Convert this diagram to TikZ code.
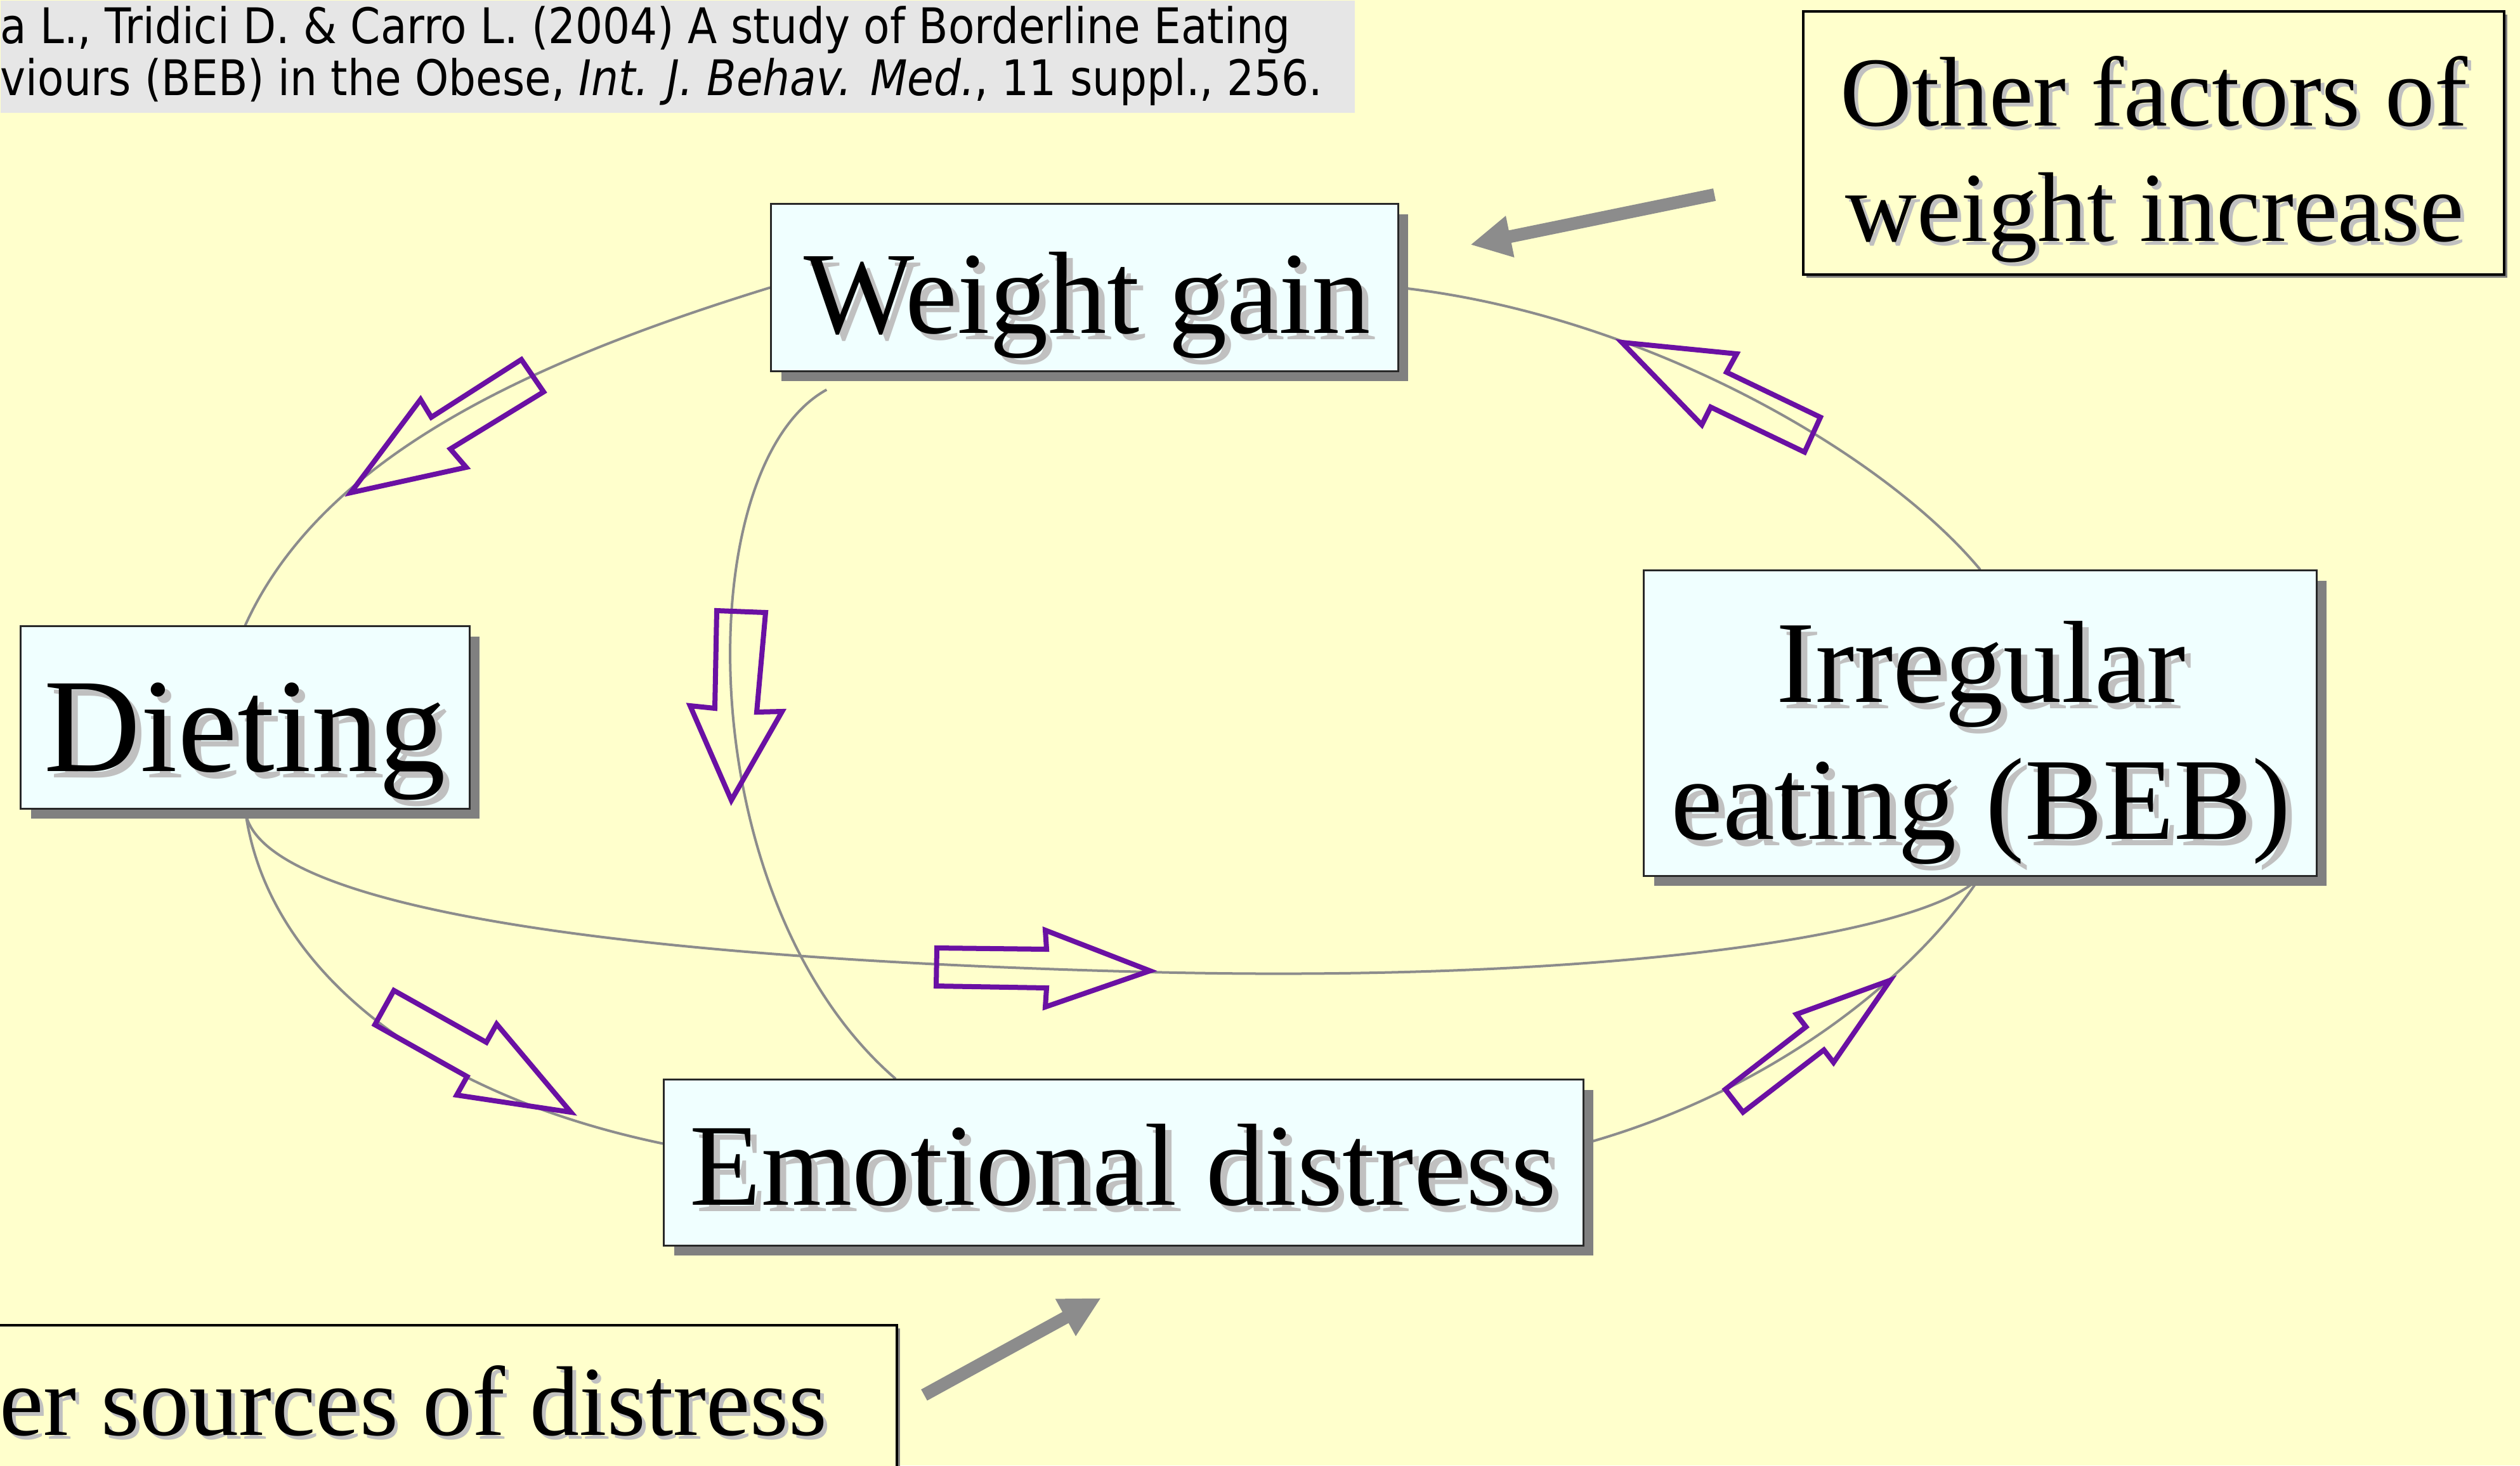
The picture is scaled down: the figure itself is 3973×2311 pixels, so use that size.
\documentclass[tikz,border=0pt]{standalone}
\usepackage{fontspec}
\setmainfont{Liberation Serif}
\newfontfamily\citefont[FakeStretch=0.875]{DejaVu Sans}
\usetikzlibrary{arrows.meta,shadows,calc}

\definecolor{paper}{RGB}{255,255,204}
\definecolor{boxfill}{RGB}{240,255,255}
\definecolor{boxshade}{RGB}{128,128,128}
\definecolor{boxline}{RGB}{40,40,40}
\definecolor{linkgrey}{RGB}{140,140,140}
\definecolor{violetline}{RGB}{106,16,163}
\definecolor{glyphshade}{RGB}{192,192,192}
\definecolor{citegrey}{RGB}{230,230,230}

% black lettering over a light grey copy shifted right and down
\newcommand{\shd}[1]{\makebox[0pt][l]{\hspace{0.1cm}\raisebox{-0.1cm}{\textcolor{glyphshade}{#1}}}#1}
\newcommand{\shdsmall}[1]{\makebox[0pt][l]{\hspace{0.06cm}\raisebox{-0.06cm}{\textcolor{glyphshade}{#1}}}#1}

\pgfdeclarelayer{paperlayer}
\pgfdeclarelayer{linklayer}
\pgfsetlayers{paperlayer,linklayer,main}

\begin{document}
\begin{tikzpicture}[x=0.01cm,y=-0.01cm,
  box/.style={draw=boxline, line width=0.03cm, fill=boxfill, inner sep=0pt,
    drop shadow={shadow xshift=0.16cm, shadow yshift=-0.16cm, fill=boxshade, opacity=1}},
  sidebox/.style={draw=black, line width=0.04cm, fill=paper, inner sep=0pt,
    drop shadow={shadow xshift=0.05cm, shadow yshift=-0.05cm, fill=boxshade, opacity=1}},
  boxtext/.style={inner sep=0pt, anchor=base, text=black},
  link/.style={draw=linkgrey, line width=0.04cm},
  hollow/.style={draw=violetline, line width=0.08cm, line join=miter},
  push/.style={draw=linkgrey, line width=0.2cm, -{Triangle[length=0.64cm,width=0.62cm]}},
  citetext/.style={inner sep=0pt, anchor=base west, font=\citefont\fontsize{22}{26}\selectfont}
]
\begin{pgfonlayer}{paperlayer}
  \fill[paper] (0,0) rectangle (3973,2311);
\end{pgfonlayer}
\useasboundingbox (0,0) rectangle (3973,2311);

% reference strip
\node[fill=citegrey, minimum width=21.34cm, minimum height=1.77cm, inner sep=0pt, anchor=north west] (cite) at (0,0) {};
\node[citetext] (citeA) at (0,68) {a L., Tridici D. \& Carro L. (2004) A study of Borderline Eating};
\node[citetext] (citeB) at (0,150) {viours (BEB) in the Obese, \textit{Int. J. Behav. Med.}, 11 suppl., 256.};

% stages of the cycle
\node[box, minimum width=9.88cm, minimum height=2.63cm] (wg) at (1710,453.5) {};
\node[box, minimum width=7.07cm, minimum height=2.87cm] (di) at (386.5,1131.5) {};
\node[box, minimum width=10.6cm, minimum height=4.81cm] (irr) at (3122,1140.5) {};
\node[box, minimum width=14.49cm, minimum height=2.61cm] (em) at (1771.5,1833.5) {};

% outside influences
\node[sidebox, minimum width=11.05cm, minimum height=4.15cm] (of) at (3395.5,225.5) {};
\node[sidebox, minimum width=15.14cm, minimum height=3.6cm] (os) at (657,2270) {};

% lettering
\node[boxtext, font=\fontsize{52.5}{63}\selectfont] (wgT) at (1714,525) {\shd{Weight gain}};
\node[boxtext, font=\fontsize{60}{72}\selectfont] (diT) at (386,1216) {\shd{Dieting}};
\node[boxtext, font=\fontsize{52.4}{62}\selectfont] (irrA) at (3123,1107) {\shd{Irregular}};
\node[boxtext, font=\fontsize{52.4}{62}\selectfont] (irrB) at (3123,1323) {\shd{eating (BEB)}};
\node[boxtext, font=\fontsize{52.4}{62}\selectfont] (emT) at (1771,1900) {\shd{Emotional distress}};
\node[boxtext, font=\fontsize{44.4}{53}\selectfont] (ofA) at (3396,198) {\shdsmall{Other factors of}};
\node[boxtext, font=\fontsize{44.4}{53}\selectfont] (ofB) at (3397,380) {\shdsmall{weight increase}};
\node[boxtext, anchor=base east, font=\fontsize{44.4}{53}\selectfont] (osT) at (1305,2263) {\shdsmall{er sources of distress}};

\begin{pgfonlayer}{linklayer}
  % thin links between the stages
  \draw[link] (wg.west) .. controls (836,570) and (507,720) .. (di.north);
  \draw[link] (wg.east) .. controls (2585,495) and (2965,710) .. (irr.north);
  \draw[link] ($(wg.south west)+(89,28)$) .. controls (1085,735) and (1085,1419) .. ($(em.north west)+(367,0)$);
  \draw[link] (di.south) .. controls (418,1520) and (659,1723) .. ($(em.west)+(0,-30)$);
  \draw[link] (di.south) .. controls (400,1420) and (900,1510) .. (1812,1533)
                         .. controls (2500,1550) and (3030,1480) .. (irr.south);
  \draw[link] ($(em.east)+(0,-30)$) .. controls (2787,1723) and (3015,1546) .. (irr.south);

  % hollow direction arrows
  \draw[hollow] (553,777) -- (663,630) -- (680,658) -- (822,567) -- (857,618) -- (710,708) -- (735,737) -- cycle;
  \draw[hollow] (1153,1262) -- (1088,1113) -- (1127,1117) -- (1130,963) -- (1207,966) -- (1193,1123) -- (1233,1122) -- cycle;
  \draw[hollow] (1813,1531) -- (1648,1467) -- (1650,1497) -- (1477,1495) -- (1476,1555) -- (1650,1558) -- (1648,1588) -- cycle;
  \draw[hollow] (2557,540) -- (2738,558) -- (2722,587) -- (2870,658) -- (2845,713) -- (2697,642) -- (2683,670) -- cycle;
  \draw[hollow] (900,1754) -- (783,1615) -- (766.8,1643.8) -- (621,1562) -- (591,1616) -- (736.4,1697.8) -- (720,1727) -- cycle;
  \draw[hollow] (2980,1546) -- (2832.1,1599.6) -- (2847.3,1619.4) -- (2720,1718) -- (2748,1754) -- (2875.5,1655.8) -- (2890.7,1675.6) -- cycle;
\end{pgfonlayer}

% solid grey arrows from the outside influences
\coordinate (pushAtail) at (2703,307);
\coordinate (pushAtip) at (2318,386);
\draw[push] (pushAtail) -- (pushAtip);
\coordinate (pushBtail) at (1457,2200);
\coordinate (pushBtip) at (1736,2047);
\draw[push] (pushBtail) -- (pushBtip);
\end{tikzpicture}
\end{document}
